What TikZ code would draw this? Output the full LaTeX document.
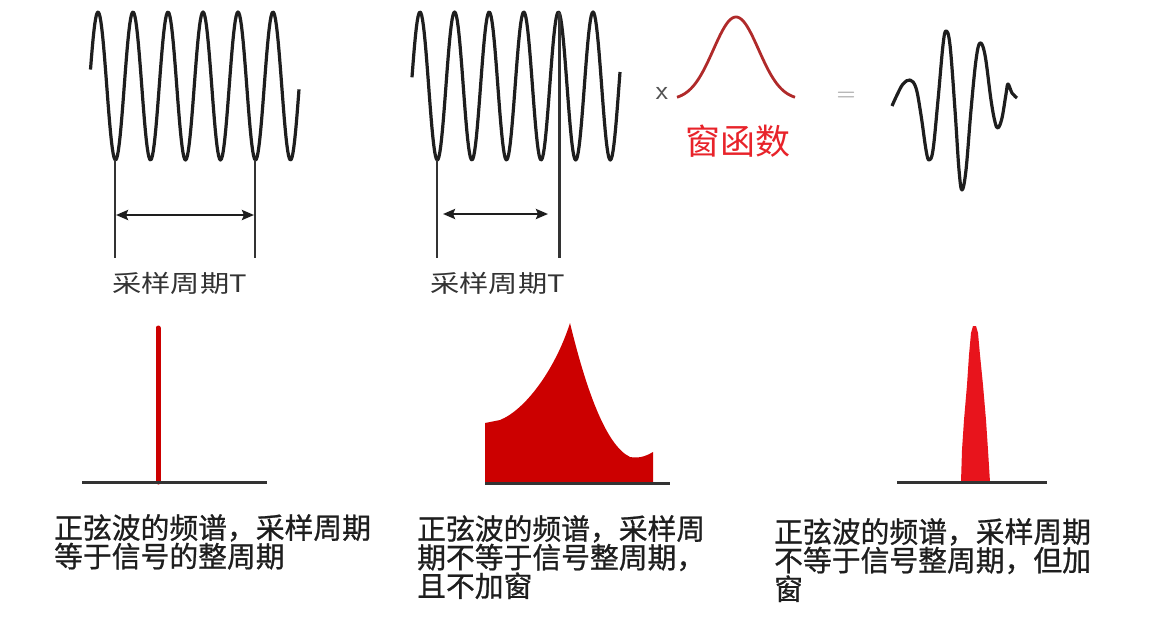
\documentclass[tikz,border=0pt]{standalone}
\usepackage{fontspec}
\newfontfamily\cjk{Noto Sans CJK SC}
\newfontfamily\cjkb[FakeBold=0.8]{Noto Sans CJK SC}
\usetikzlibrary{arrows.meta}
\definecolor{ink}{HTML}{1E1E1E}
\definecolor{winred}{HTML}{B02A2A}
\definecolor{specred}{HTML}{CC0000}
\definecolor{brightred}{HTML}{E8141C}
\definecolor{labred}{HTML}{E8232A}
\definecolor{basegray}{HTML}{333333}
\tikzset{
  wave/.style={draw=ink, line width=3.2pt, line join=round},
  guide/.style={draw=basegray, line width=2.4pt},
  dim/.style={draw=ink, line width=2.6pt, {Stealth[length=12pt,width=10pt,inset=2pt]}-{Stealth[length=12pt,width=10pt,inset=2pt]}},
  axis/.style={draw=basegray, line width=3pt},
  periodlab/.style={inner sep=0pt, anchor=base west, text=basegray, font=\cjk\fontsize{24}{24}\selectfont, xscale=1.22},
  caption/.style={inner sep=0pt, anchor=north west, align=left, text=ink, font=\cjkb\fontsize{28.8}{28.6}\selectfont},
}
\begin{document}
\begin{tikzpicture}[x=1pt,y=-1pt]
\useasboundingbox (0,0) rectangle (1154,624);
\fill[white] (0,0) rectangle (1154,624);

% ---------- wave 1 ----------
\draw[wave] plot[domain=90.5:299, samples=240] (\x, {86-74*sin((\x-89.25)/35*360)});
\coordinate (w1a) at (115,160);
\coordinate (w1b) at (115,258);
\coordinate (w1c) at (255,160);
\coordinate (w1d) at (255,258);
\draw[guide] (w1a) -- (w1b);
\draw[guide] (w1c) -- (w1d);
\coordinate (d1l) at (116,215);
\coordinate (d1r) at (254,215);
\draw[dim] (d1l) -- (d1r);
\node[periodlab] (t1) at (112,292) {采样周期T};

% ---------- wave 2 ----------
\draw[wave] plot[domain=412:620, samples=240] (\x, {86-74*sin((\x-411.35)/34.6*360)});
\coordinate (w2a) at (437,160);
\coordinate (w2b) at (437,258);
\coordinate (w2c) at (559,12);
\coordinate (w2d) at (559,258);
\draw[guide] (w2a) -- (w2b);
\draw[guide, line width=3pt] (w2c) -- (w2d);
\coordinate (d2l) at (443,214);
\coordinate (d2r) at (548,214);
\draw[dim] (d2l) -- (d2r);
\node[periodlab] (t2) at (430,292) {采样周期T};

% ---------- window ----------
\node[inner sep=0pt, text=basegray!85, font=\fontsize{28}{28}\selectfont\sffamily] (times) at (662,93) {x};
\draw[winred, line width=2.8pt] plot[domain=677:795, samples=120] (\x, {100-83*exp(-((\x-736)/32)^2)});
\node[inner sep=0pt, text=labred, font=\cjk\fontsize{35}{35}\selectfont] (winlab) at (738,141) {窗函数};
\node[inner sep=0pt, text=gray!85, font=\fontsize{26}{26}\selectfont\sffamily] (eq) at (846,97) {=};

% ---------- windowed wave ----------
\draw[wave] plot[smooth, tension=0.6] coordinates {
 (892,106) (897,95) (903,84) (910,80) (916,88) (921,115) (926,150) (929,160)
 (933,150) (938,100) (943,45) (946,31) (950,45) (955,110) (959,170) (962,190)
 (966,170) (971,110) (976,60) (980,43) (985,55) (991,100) (995,122) (998,128)
 (1002,118) (1006,94) (1008,84) (1012,93) (1017,98)};

% ---------- spectrum 1 ----------
\coordinate (s1top) at (158,328);
\coordinate (s1bot) at (158,482);
\draw[specred, line width=5pt, line cap=round] (s1bot) -- (s1top);
\coordinate (b1l) at (82,482);
\coordinate (b1r) at (267,482);
\draw[axis] (b1l) -- (b1r);

% ---------- spectrum 2 ----------
\fill[specred] (485,482) -- (485,423) -- (500,420)
  .. controls (525,410) and (555,370) .. (570,323)
  .. controls (585,385) and (605,445) .. (630,457)
  .. controls (640,459) and (648,455) .. (653,452) -- (653,482) -- cycle;
\coordinate (b2l) at (485,483);
\coordinate (b2r) at (670,483);
\draw[axis] (b2l) -- (b2r);

% ---------- spectrum 3 ----------
\fill[brightred] (961,482) -- (962,450) -- (964,420) -- (967,385) -- (969,355)
  -- (971,333) -- (973,326) -- (976,326) -- (978,333) -- (980,355) -- (983,385)
  -- (986,420) -- (988,450) -- (990,482) -- cycle;
\coordinate (b3l) at (897,482);
\coordinate (b3r) at (1047,482);
\draw[axis] (b3l) -- (b3r);

% ---------- captions ----------
\node[caption] (c1) at (54,514) {正弦波的频谱，采样周期\\等于信号的整周期};
\node[caption] (c2) at (417,515) {正弦波的频谱，采样周\\期不等于信号整周期，\\且不加窗};
\node[caption] (c3) at (774,518) {正弦波的频谱，采样周期\\不等于信号整周期，但加\\窗};
\end{tikzpicture}
\end{document}
